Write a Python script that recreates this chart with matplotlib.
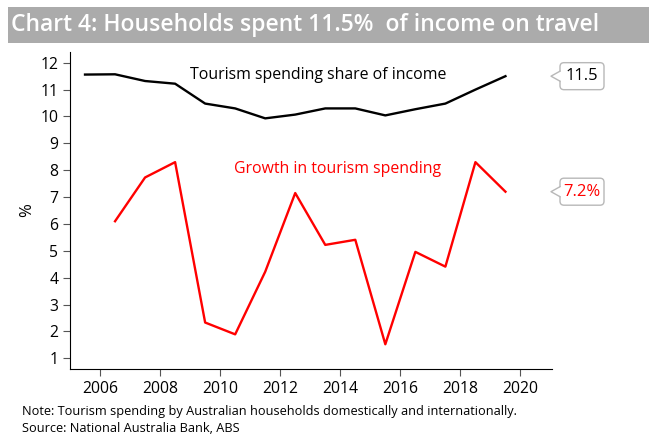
import matplotlib
matplotlib.use("Agg")
import matplotlib.pyplot as plt
from matplotlib.patches import Rectangle, FancyBboxPatch, Polygon
from matplotlib.lines import Line2D

plt.rcParams["font.family"] = ["Open Sans", "DejaVu Sans"]

# Data
years = [2005.5, 2006.5, 2007.5, 2008.5, 2009.5, 2010.5, 2011.5, 2012.5,
         2013.5, 2014.5, 2015.5, 2016.5, 2017.5, 2018.5, 2019.5]
share_of_income = [11.56, 11.57, 11.32, 11.22, 10.48, 10.30, 9.93, 10.07,
                   10.30, 10.30, 10.04, 10.27, 10.48, 11.00, 11.5]
growth_years = years[1:]
growth = [6.1, 7.73, 8.3, 2.33, 1.89, 4.22, 7.15, 5.22, 5.41, 1.52,
          4.96, 4.41, 8.3, 7.2]

x_ticks = [2006, 2008, 2010, 2012, 2014, 2016, 2018, 2020]
y_ticks = list(range(1, 13))

fig = plt.figure(figsize=(6.49, 4.34), dpi=100)
ax = fig.add_axes([70 / 649, 1 - 369 / 434, 482 / 649, 317 / 434])

ax.plot(years, share_of_income, color="black", lw=1.7)
ax.plot(growth_years, growth, color="#ff0000", lw=1.7)

ax.set_xlim(2005, 2021.05)
ax.set_ylim(0.6, 12.4)
ax.set_xticks(x_ticks)
ax.set_yticks(y_ticks)
ax.tick_params(labelsize=11.3, length=5, color="#555555")
for s in ["top", "right"]:
    ax.spines[s].set_visible(False)
ax.set_ylabel("%", fontsize=12, labelpad=4)

ax.text(2009.0, 11.55, "Tourism spending share of income", fontsize=11.4,
        color="black", va="center", ha="left")
ax.text(2010.45, 8.05, "Growth in tourism spending", fontsize=11.4,
        color="#ff0000", va="center", ha="left")

# Callouts with the latest values
fig.canvas.draw()
for val, label, col in [(share_of_income[-1], f"{share_of_income[-1]:.1f}", "black"),
                        (growth[-1], f"{growth[-1]:.1f}%", "#ff0000")]:
    _, py = ax.transData.transform((years[-1], val))
    tip_x = 551
    bx0, bw, bh = 560, 44, 27
    box = FancyBboxPatch((bx0, py - bh / 2), bw, bh,
                         boxstyle="round,pad=0,rounding_size=4",
                         fc="white", ec="#b8b8b8", lw=1.0,
                         transform=None, figure=fig)
    fig.patches.append(box)
    tri = Polygon([(bx0 + 1, py + 5), (tip_x, py), (bx0 + 1, py - 5)],
                  closed=True, fc="white", ec="none", transform=None, figure=fig)
    fig.patches.append(tri)
    fig.lines.append(Line2D([bx0, tip_x, bx0], [py + 5, py, py - 5],
                            color="#b8b8b8", lw=1.0, transform=None, figure=fig))
    fig.text((bx0 + bw / 2) / 649, py / 434, label, color=col, fontsize=12,
             ha="center", va="center")

# Title bar
fig.patches.append(Rectangle((8 / 649, 1 - 43 / 434), 641 / 649, 36 / 434,
                             transform=fig.transFigure, fc="#ababab", ec="none",
                             figure=fig))
fig.text(11 / 649, 1 - 25 / 434, "Chart 4: Households spent 11.5%  of income on travel",
         color="white", fontsize=16.5, fontweight="semibold", va="center", ha="left")

fig.text(22 / 649, 1 - 411 / 434,
         "Note: Tourism spending by Australian households domestically and internationally.",
         fontsize=9.2, va="center")
fig.text(22 / 649, 1 - 428 / 434, "Source: National Australia Bank, ABS",
         fontsize=9.2, va="center")

fig.savefig("out.png", dpi=100)
